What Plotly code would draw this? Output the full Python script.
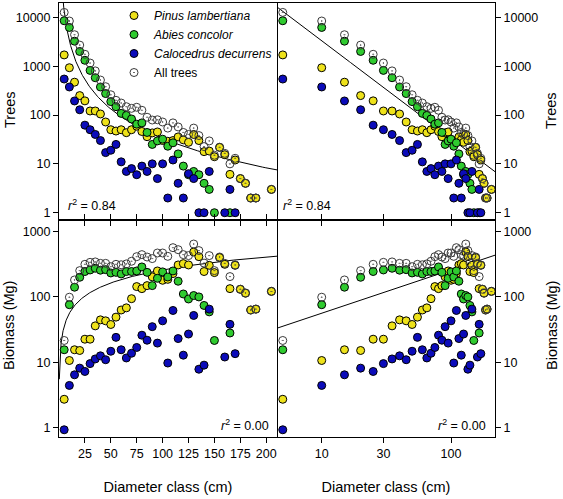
import plotly.graph_objects as go
from plotly.subplots import make_subplots
import numpy as np

# ---------------- data ----------------
diameter = [5, 10, 15, 20, 25, 30, 35, 40, 45, 50, 55, 60, 65, 70, 75, 80, 85, 90, 95, 100,
            105, 110, 115, 120, 125, 130, 135, 140, 145, 150, 155, 160, 165, 170, 175, 180,
            185, 190, 195, 200, 205]

pine_trees = [1700, 930, 470, 250, 195, 121, 121, 105, 72, 50, 47, 50, 43.5, 50, 59, 46, 36, 43, 45, 30,
              29, 30, 35.6, 31, 27.6, 40, 30, 17.8, 18.3, 14, 21.8, 15.4, 6.1, 12, 5, 4,
              2, 2, None, None, 3]
fir_trees = [8500, 6200, 3250, 2000, 1320, 820, 580, 375, 275, 188, 148, 108, 98, 83, 65, 69, 44, 25, 29.5, 32,
             23, 27, 16, 9, 6, 7, 6, 4, 3, 1, None, None, 1, None, None, None,
             None, None, None, None, None]
cedar_trees = [545, 375, 194, 128, 62, 50, 40, 30, 17, 19, 25, 11, 7, 8, 6, 9, 7, 10, 5, 10,
               2, 12, 4, 2, 6.3, 5, 1, 1, 7, None, None, 1, 3, 1, None, None,
               None, None, None, None, None]
all_trees = [12600, 8400, 4400, 2700, 1750, 1160, 800, 520, 380, 260, 200, 176, 148, 137, 144, 125, 90, 79, 80, 72,
             54, 69, 57, 44, 40, 54, 38, 22.6, 29.5, 15, 21.8, 16.4, 10, 13, 5, 4,
             2, 2, None, None, 3]

pine_bio = [2.7, 10.6, 15.5, 15.1, 22.5, 22.5, 36, 44.5, 43, 37.8, 49, 63, 68, 94, 144, 134, 149, 203, 250, 180,
            186, 228, 309, 324, 309, 488, 414, 245, 305, 236, 401, 316, 134, 305, 131, 114,
            63, 65, None, None, 122]
fir_bio = [15.5, 76, 141, 200, 245, 259, 275, 257, 262, 233, 238, 225, 245, 245, 250, 288, 238, 149, 193, 242,
           202, 250, 174, 111, 93, 105, 100, 74, 59, 21.5, None, None, 28, None, None, None,
           None, None, None, None, None]
cedar_bio = [0.92, 4.4, 6.4, 8.1, 7.2, 9.5, 11.2, 12.5, 10.9, 14.7, 24, 15.5, 11.6, 13.7, 16.8, 25.9, 21.7, 35, 19.6, 43,
             9.7, 62, 23, 12.8, 27, 52, 7.8, 9, 65, None, None, 12, 38, 13.5, None, None,
             None, None, None, None, None]
all_bio = [21.5, 99, 182, 253, 316, 339, 344, 327, 327, 291, 316, 311, 321, 352, 414, 445, 409, 387, 471, 471,
           419, 569, 530, 445, 430, 647, 513, 330, 430, 253, 409, 327, 205, 309, 131, 115,
           63, 65, None, None, 121]

# power-law fits  y = a * D^b
trees_fit_a, trees_fit_b, trees_r2 = 10 ** 5.52, -2.0, "0.84"
bio_fit_a, bio_fit_b, bio_r2 = 10 ** 1.086, 0.664, "0.00"

x_ticks_lin = [25, 50, 75, 100, 125, 150, 175, 200]
x_ticks_log = [10, 30, 100]
y_ticks_trees = [1, 10, 100, 1000, 10000]
y_ticks_bio = [1, 10, 100, 1000]

# ---------------- styling ----------------
FONT = "Arial, Liberation Sans, sans-serif"
YELLOW = "#EEE21A"
GREEN = "#2FCB2F"
BLUE = "#0B0BBA"
species = [
    ("<i>Pinus lambertiana</i>", pine_trees, pine_bio, YELLOW),
    ("<i>Abies concolor</i>", fir_trees, fir_bio, GREEN),
    ("<i>Calocedrus decurrens</i>", cedar_trees, cedar_bio, BLUE),
]

fig = make_subplots(rows=2, cols=2, horizontal_spacing=0, vertical_spacing=0)

fit_d = np.geomspace(0.3, 240, 400)
for row, (fa, fb) in [(1, (trees_fit_a, trees_fit_b)), (2, (bio_fit_a, bio_fit_b))]:
    for col in (1, 2):
        fig.add_trace(go.Scatter(x=fit_d, y=fa * fit_d ** fb, mode="lines",
                                 line=dict(color="black", width=1), showlegend=False,
                                 hoverinfo="skip"), row=row, col=col)

for row in (1, 2):
    for col in (1, 2):
        first = (row == 1 and col == 1)
        for name, tr, bio, color in species:
            fig.add_trace(go.Scatter(
                x=diameter, y=tr if row == 1 else bio, mode="markers", name=name,
                marker=dict(symbol="circle", size=8, color=color,
                            line=dict(color="black", width=1)),
                showlegend=first), row=row, col=col)
        fig.add_trace(go.Scatter(
            x=diameter, y=all_trees if row == 1 else all_bio, mode="markers", name="All trees",
            marker=dict(symbol="circle-open-dot", size=8, color="#3a3a3a",
                        line=dict(width=1)),
            showlegend=first), row=row, col=col)

axis_common = dict(showgrid=False, zeroline=False, showline=True, linecolor="black",
                   linewidth=1, ticks="outside", ticklen=5, tickwidth=1, tickcolor="black",
                   automargin=False,
                   tickfont=dict(family=FONT, size=12.5, color="black"))
title_font = dict(family=FONT, size=14.5, color="black")

# x axes
fig.update_xaxes(**axis_common)
fig.update_xaxes(row=1, col=1, range=[0, 210.4], tickvals=x_ticks_lin, showticklabels=False, mirror=True)
fig.update_xaxes(row=2, col=1, range=[0, 210.4], tickvals=x_ticks_lin,
                 ticktext=[str(v) for v in x_ticks_lin], mirror="ticks",
                 title=dict(text="Diameter class (cm)", font=title_font, standoff=21))
fig.update_xaxes(row=1, col=2, type="log", range=[0.6543, 2.340], tickvals=x_ticks_log,
                 showticklabels=False, mirror=True)
fig.update_xaxes(row=2, col=2, type="log", range=[0.6543, 2.340], tickvals=x_ticks_log,
                 ticktext=[str(v) for v in x_ticks_log], mirror="ticks",
                 title=dict(text="Diameter class (cm)", font=title_font, standoff=21))

# y axes
fig.update_yaxes(**axis_common)
fig.update_yaxes(row=1, col=1, type="log", range=[-0.149, 4.293], tickvals=y_ticks_trees,
                 ticktext=[str(v) for v in y_ticks_trees], mirror=True)
fig.update_yaxes(row=1, col=2, type="log", range=[-0.149, 4.293], tickvals=y_ticks_trees,
                 ticktext=[str(v) for v in y_ticks_trees], mirror=False, side="right")
fig.update_yaxes(row=2, col=1, type="log", range=[-0.147, 3.179], tickvals=y_ticks_bio,
                 ticktext=[str(v) for v in y_ticks_bio], mirror=True)
fig.update_yaxes(row=2, col=2, type="log", range=[-0.147, 3.179], tickvals=y_ticks_bio,
                 ticktext=[str(v) for v in y_ticks_bio], mirror=False, side="right")

# plot area in pixels: x 59..495, y 3..437
L, R, T, B = 59, 495, 3, 437
def px_x(x):
    return (x - L) / (R - L)
def px_y(y):
    return (B - y) / (B - T)

ann_font = dict(family=FONT, size=12.5, color="black")
annotations = []
# y axis titles
for text, x, y in [("Trees", 10, 110), ("Trees", 551, 111),
                   ("Biomass (Mg)", 9, 326), ("Biomass (Mg)", 552, 326)]:
    annotations.append(dict(xref="paper", yref="paper", x=px_x(x), y=px_y(y),
                            xanchor="center", yanchor="middle", showarrow=False,
                            textangle=-90, text=text, font=title_font))
# r^2 annotations
for xr, yr in [("x", "y"), ("x2", "y2")]:
    annotations.append(dict(xref=f"{xr} domain", yref=f"{yr} domain",
                            x=0.03 if xr == "x" else 0.018, y=0.07,
                            xanchor="left", yanchor="middle", showarrow=False,
                            text=f"<i>r</i><sup>2</sup> = {trees_r2}", font=ann_font))
for xr, yr in [("x3", "y3"), ("x4", "y4")]:
    annotations.append(dict(xref=f"{xr} domain", yref=f"{yr} domain",
                            x=0.972 if xr == "x3" else 0.968, y=0.055,
                            xanchor="right", yanchor="middle", showarrow=False,
                            text=f"<i>r</i><sup>2</sup> = {bio_r2}", font=ann_font))

fig.update_layout(
    width=563, height=499,
    margin=dict(l=L, r=563 - R, t=T, b=499 - B, autoexpand=False),
    paper_bgcolor="white", plot_bgcolor="white",
    font=dict(family=FONT, color="black"),
    annotations=annotations,
    legend=dict(x=px_x(114), y=px_y(1), xanchor="left", yanchor="top",
                bgcolor="rgba(0,0,0,0)", font=dict(family=FONT, size=12, color="black"),
                tracegroupgap=0, itemclick=False),
    showlegend=True,
)

fig.write_html("out.html", config={"displayModeBar": False},
               post_script="document.body.style.margin='0px';document.body.style.overflow='hidden';")
